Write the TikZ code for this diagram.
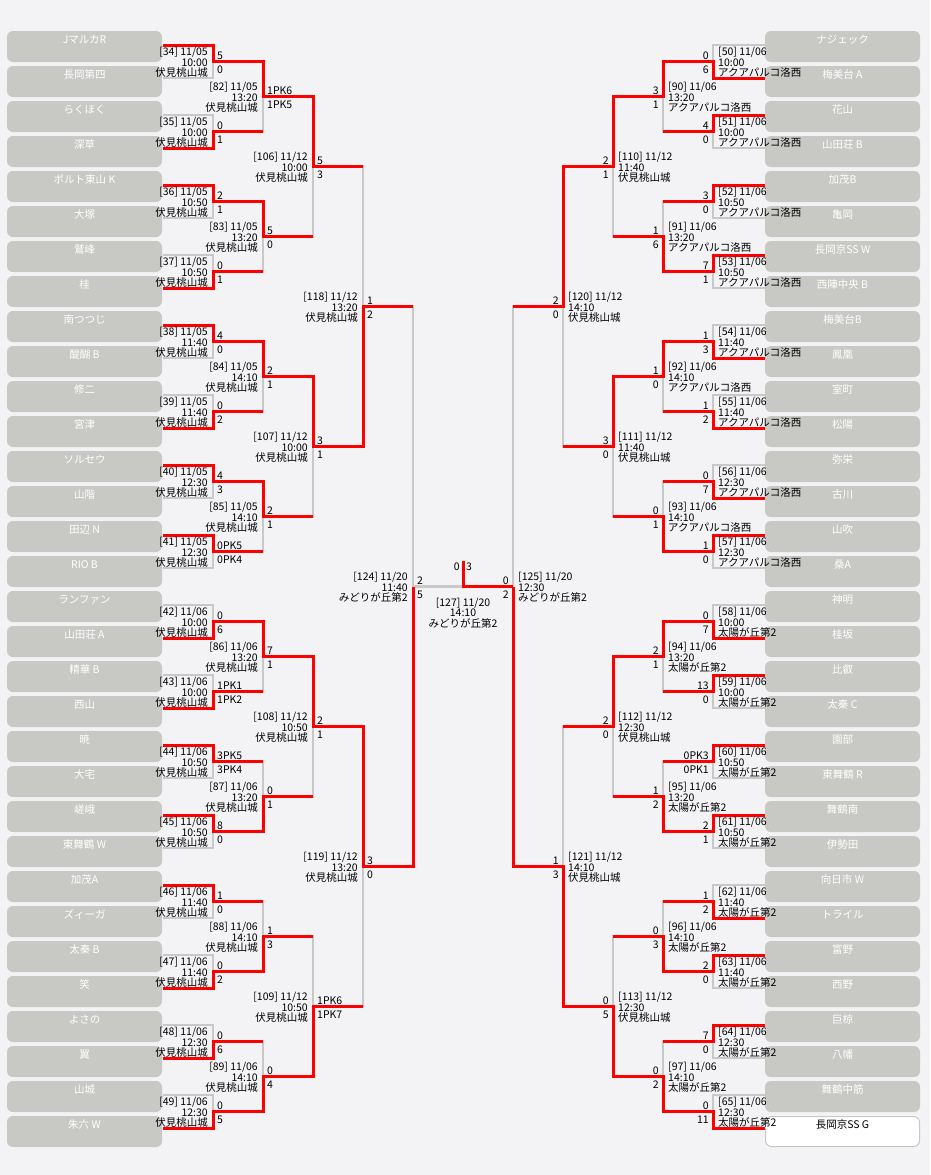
\documentclass[tikz,border=0pt]{standalone}
\usepackage{fontspec}
\setmainfont{Noto Sans CJK JP}
\pgfdeclarelayer{back}
\pgfdeclarelayer{bgl}
\pgfsetlayers{back,bgl,main}
\definecolor{bgc}{RGB}{243,242,245}
\definecolor{boxc}{RGB}{200,201,197}
\definecolor{gl}{RGB}{200,200,200}
\definecolor{rl}{RGB}{255,0,0}
\newcounter{mc}
\tikzset{
 tbox/.style={draw=none, fill=boxc, rounded corners=6pt, minimum width=155pt, minimum height=31pt, inner sep=0pt},
 wbox/.style={draw=gl, line width=1pt, fill=white, rounded corners=6pt, minimum width=154pt, minimum height=30pt, inner sep=0pt},
 tname/.style={text=white, font=\fontsize{10.5}{11}\selectfont, inner sep=0pt},
 gline/.style={draw=gl, line width=2.5pt},
 rline/.style={draw=rl, line width=3pt, line join=miter},
 mlab/.style={font=\fontsize{10.5}{10.6}\selectfont, inner sep=0pt},
 sc/.style={font=\fontsize{10.5}{10.5}\selectfont, inner sep=0pt},
}
\newcommand\M[9]{%
 \stepcounter{mc}%
 \pgfmathsetmacro\ym{(#2+#3)/2}%
 \pgfmathsetmacro\xin{#1-\dir*\inoff}%
 \pgfmathsetmacro\xout{#1+\dir*\olen}%
 \ifnum#4=0 \def\yw{#2}\else\def\yw{#3}\fi
 \begin{pgfonlayer}{bgl}
 \draw[gline] (\xin,#2) -- (#1,#2) -- (#1,#3) -- (\xin,#3);
 \draw[gline] (#1,\ym) -- (\xout,\ym);
 \end{pgfonlayer}
 \draw[rline] (\xin,\yw) -- (#1,\yw) -- (#1,\ym) -- (\xout,\ym);
 \ifnum\dir=1
 \node[mlab,anchor=east,align=right] (lab\themc) at (#1-5,\ym+1) {#5\\#6\\#7};
 \node[sc,anchor=west] (st\themc) at (#1+4,\ym-6) {#8};
 \node[sc,anchor=west] (sb\themc) at (#1+4,\ym+8) {#9};
 \else
 \node[mlab,anchor=west,align=left] (lab\themc) at (#1+5,\ym+1) {#5\\#6\\#7};
 \node[sc,anchor=east] (st\themc) at (#1-4,\ym-6) {#8};
 \node[sc,anchor=east] (sb\themc) at (#1-4,\ym+8) {#9};
 \fi
}
\begin{document}
\begin{tikzpicture}[x=1pt,y=-1pt]
\begin{pgfonlayer}{back}
\fill[bgc] (0,0) rectangle (930,1175);
\end{pgfonlayer}
\useasboundingbox (0,0) rectangle (930,1175);
% left teams
\foreach \n [count=\i from 0] in {JマルカR,長岡第四,らくほく,深草,ポルト東山 K,大塚,鷲峰,桂,南つつじ,醍醐 B,修二,宮津,ソルセウ,山階,田辺 N,RIO B,ランファン,山田荘 A,精華 B,西山,暁,大宅,嵯峨,東舞鶴 W,加茂A,ズィーガ,太秦 B,笑,よさの,翼,山城,朱六 W} {
  \node[tbox] (L\i) at (84.5,{46.5+35*\i}) {};
  \path (L\i.north) ++(0,9) node[tname] (LN\i) {\n};
}
% right teams
\foreach \n [count=\i from 0] in {ナジェック,梅美台 A,花山,山田荘 B,加茂B,亀岡,長岡京SS W,西陣中央 B,梅美台B,鳳凰,室町,松陽,弥栄,古川,山吹,桑A,神明,桂坂,比叡,太秦 C,園部,東舞鶴 R,舞鶴南,伊勢田,向日市 W,トライル,富野,西野,巨椋,八幡,舞鶴中筋} {
  \node[tbox] (R\i) at (842.5,{46.5+35*\i}) {};
  \path (R\i.north) ++(0,9) node[tname] (RN\i) {\n};
}
\node[wbox] (R31) at (842.5,1131.5) {};
\path (R31.north) ++(0,9) node[tname,text=black] (RN31) {長岡京SS G};
% left side matches
\def\dir{1}\def\inoff{50}\def\olen{50}
\M{213}{45}{78}{0}{[34] 11/05}{10:00}{伏見桃山城}{5}{0}
\M{213}{115}{148}{1}{[35] 11/05}{10:00}{伏見桃山城}{0}{1}
\M{213}{185}{218}{0}{[36] 11/05}{10:50}{伏見桃山城}{2}{1}
\M{213}{255}{288}{1}{[37] 11/05}{10:50}{伏見桃山城}{0}{1}
\M{213}{325}{358}{0}{[38] 11/05}{11:40}{伏見桃山城}{4}{0}
\M{213}{395}{428}{1}{[39] 11/05}{11:40}{伏見桃山城}{0}{2}
\M{213}{465}{498}{0}{[40] 11/05}{12:30}{伏見桃山城}{4}{3}
\M{213}{535}{568}{0}{[41] 11/05}{12:30}{伏見桃山城}{0PK5}{0PK4}
\M{213}{605}{638}{1}{[42] 11/06}{10:00}{伏見桃山城}{0}{6}
\M{213}{675}{708}{1}{[43] 11/06}{10:00}{伏見桃山城}{1PK1}{1PK2}
\M{213}{745}{778}{0}{[44] 11/06}{10:50}{伏見桃山城}{3PK5}{3PK4}
\M{213}{815}{848}{0}{[45] 11/06}{10:50}{伏見桃山城}{8}{0}
\M{213}{885}{918}{0}{[46] 11/06}{11:40}{伏見桃山城}{1}{0}
\M{213}{955}{988}{1}{[47] 11/06}{11:40}{伏見桃山城}{0}{2}
\M{213}{1025}{1058}{1}{[48] 11/06}{12:30}{伏見桃山城}{0}{6}
\M{213}{1095}{1128}{1}{[49] 11/06}{12:30}{伏見桃山城}{0}{5}
\M{263}{61.5}{131.5}{0}{[82] 11/05}{13:20}{伏見桃山城}{1PK6}{1PK5}
\M{263}{201.5}{271.5}{0}{[83] 11/05}{13:20}{伏見桃山城}{5}{0}
\M{263}{341.5}{411.5}{0}{[84] 11/05}{14:10}{伏見桃山城}{2}{1}
\M{263}{481.5}{551.5}{0}{[85] 11/05}{14:10}{伏見桃山城}{2}{1}
\M{263}{621.5}{691.5}{0}{[86] 11/06}{13:20}{伏見桃山城}{7}{1}
\M{263}{761.5}{831.5}{1}{[87] 11/06}{13:20}{伏見桃山城}{0}{1}
\M{263}{901.5}{971.5}{1}{[88] 11/06}{14:10}{伏見桃山城}{1}{3}
\M{263}{1041.5}{1111.5}{1}{[89] 11/06}{14:10}{伏見桃山城}{0}{4}
\M{313}{96.5}{236.5}{0}{[106] 11/12}{10:00}{伏見桃山城}{5}{3}
\M{313}{376.5}{516.5}{0}{[107] 11/12}{10:00}{伏見桃山城}{3}{1}
\M{313}{656.5}{796.5}{0}{[108] 11/12}{10:50}{伏見桃山城}{2}{1}
\M{313}{936.5}{1076.5}{1}{[109] 11/12}{10:50}{伏見桃山城}{1PK6}{1PK7}
\M{363}{166.5}{446.5}{1}{[118] 11/12}{13:20}{伏見桃山城}{1}{2}
\M{363}{726.5}{1006.5}{0}{[119] 11/12}{13:20}{伏見桃山城}{3}{0}
\def\olen{0}
\M{413}{306.5}{866.5}{1}{[124] 11/20}{11:40}{みどりが丘第2}{2}{5}
% right side matches
\def\dir{-1}\def\inoff{52}\def\olen{50}
\M{713}{45}{78}{1}{[50] 11/06}{10:00}{アクアパルコ洛西}{0}{6}
\M{713}{115}{148}{0}{[51] 11/06}{10:00}{アクアパルコ洛西}{4}{0}
\M{713}{185}{218}{0}{[52] 11/06}{10:50}{アクアパルコ洛西}{3}{0}
\M{713}{255}{288}{0}{[53] 11/06}{10:50}{アクアパルコ洛西}{7}{1}
\M{713}{325}{358}{1}{[54] 11/06}{11:40}{アクアパルコ洛西}{1}{3}
\M{713}{395}{428}{1}{[55] 11/06}{11:40}{アクアパルコ洛西}{1}{2}
\M{713}{465}{498}{1}{[56] 11/06}{12:30}{アクアパルコ洛西}{0}{7}
\M{713}{535}{568}{0}{[57] 11/06}{12:30}{アクアパルコ洛西}{1}{0}
\M{713}{605}{638}{1}{[58] 11/06}{10:00}{太陽が丘第2}{0}{7}
\M{713}{675}{708}{0}{[59] 11/06}{10:00}{太陽が丘第2}{13}{0}
\M{713}{745}{778}{0}{[60] 11/06}{10:50}{太陽が丘第2}{0PK3}{0PK1}
\M{713}{815}{848}{0}{[61] 11/06}{10:50}{太陽が丘第2}{2}{1}
\M{713}{885}{918}{1}{[62] 11/06}{11:40}{太陽が丘第2}{1}{2}
\M{713}{955}{988}{0}{[63] 11/06}{11:40}{太陽が丘第2}{2}{0}
\M{713}{1025}{1058}{0}{[64] 11/06}{12:30}{太陽が丘第2}{7}{0}
\M{713}{1095}{1128}{1}{[65] 11/06}{12:30}{太陽が丘第2}{0}{11}
\def\inoff{50}
\M{663}{61.5}{131.5}{0}{[90] 11/06}{13:20}{アクアパルコ洛西}{3}{1}
\M{663}{201.5}{271.5}{1}{[91] 11/06}{13:20}{アクアパルコ洛西}{1}{6}
\M{663}{341.5}{411.5}{0}{[92] 11/06}{14:10}{アクアパルコ洛西}{1}{0}
\M{663}{481.5}{551.5}{1}{[93] 11/06}{14:10}{アクアパルコ洛西}{0}{1}
\M{663}{621.5}{691.5}{0}{[94] 11/06}{13:20}{太陽が丘第2}{2}{1}
\M{663}{761.5}{831.5}{1}{[95] 11/06}{13:20}{太陽が丘第2}{1}{2}
\M{663}{901.5}{971.5}{1}{[96] 11/06}{14:10}{太陽が丘第2}{0}{3}
\M{663}{1041.5}{1111.5}{1}{[97] 11/06}{14:10}{太陽が丘第2}{0}{2}
\M{613}{96.5}{236.5}{0}{[110] 11/12}{11:40}{伏見桃山城}{2}{1}
\M{613}{376.5}{516.5}{0}{[111] 11/12}{11:40}{伏見桃山城}{3}{0}
\M{613}{656.5}{796.5}{0}{[112] 11/12}{12:30}{伏見桃山城}{2}{0}
\M{613}{936.5}{1076.5}{1}{[113] 11/12}{12:30}{伏見桃山城}{0}{5}
\M{563}{166.5}{446.5}{0}{[120] 11/12}{14:10}{伏見桃山城}{2}{0}
\M{563}{726.5}{1006.5}{1}{[121] 11/12}{14:10}{伏見桃山城}{1}{3}
\def\olen{0}
\M{513}{306.5}{866.5}{1}{[125] 11/20}{12:30}{みどりが丘第2}{0}{2}
% final
\coordinate (FL) at (413,586.5);
\coordinate (FR) at (513,586.5);
\coordinate (FC) at (463,586.5);
\coordinate (FT) at (463,561);
\begin{pgfonlayer}{bgl}
\draw[gline] (FL) -- (FR);
\draw[gline] (FC) -- (FT);
\end{pgfonlayer}
\draw[rline] (FR) -- (FC) -- (FT);
\node[sc,anchor=east] (fs1) at (460,567) {0};
\node[sc,anchor=west] (fs2) at (466,567) {3};
\node[mlab,align=center] (flab) at (463,613) {[127] 11/20\\14:10\\みどりが丘第2};
\end{tikzpicture}
\end{document}
